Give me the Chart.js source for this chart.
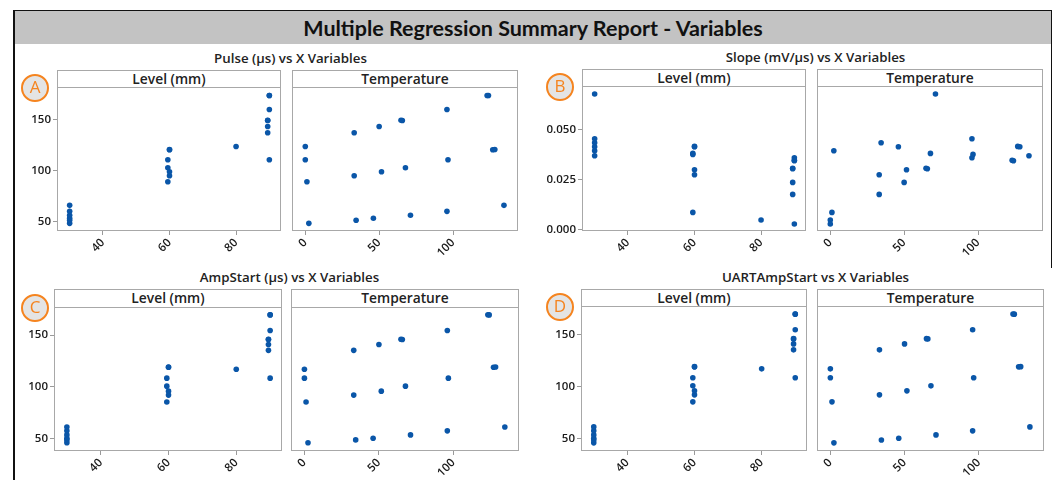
<!DOCTYPE html>
<html>
<head>
<meta charset="utf-8">
<script src="https://cdn.jsdelivr.net/npm/chart.js@4.4.1/dist/chart.umd.min.js"></script>
<style>
  body { margin: 0; width: 1057px; height: 480px; background: #fff; position: relative; overflow: hidden; font-family: "Open Sans", sans-serif; }
  .frameL { position: absolute; left: 13px; top: 10px; width: 2px; height: 470px; background: #111; }
  .frameR { position: absolute; left: 1051px; top: 10px; width: 1px; height: 258px; background: #111; }
  .band { position: absolute; left: 15px; top: 10px; width: 1036px; height: 33px; background: #c3c3c3; border-top: 1px solid #111; }
  .band span { position: absolute; left: 0; right: 0; top: 4px; text-align: center; font-family: Lato, sans-serif; font-weight: 700; font-size: 21.5px; color: #111; }
  .sub { position: absolute; text-align: center; font-size: 13.3px; font-weight: 600; color: #222; white-space: nowrap; }
  .head { position: absolute; box-sizing: border-box; border: 1px solid #a8a8a8; background: #fff; text-align: center; font-size: 13.8px; font-weight: 600; color: #222; line-height: 15px; }
  .badge { position: absolute; box-sizing: border-box; width: 28px; height: 28px; border-radius: 50%; border: 2.5px solid #f5841f; background: #e4e4e4; color: #f5841f; font-size: 17px; text-align: center; line-height: 22px; }
  canvas { position: absolute; }
</style>
</head>
<body>
<div class="frameL"></div>
<div class="frameR"></div>
<div class="band"><span>Multiple Regression Summary Report - Variables</span></div>
<script>
// one entry per observation
var level       = [80, 90, 59.5, 30, 89.5, 60, 30, 30, 89.5, 60, 89.5, 59.5, 30, 90, 59.5, 30, 90, 60, 30, 89.5, 60, 90];
var temperature = [0, 0, 1.1, 2.4, 33.1, 33.1, 34.4, 46.1, 50, 51.6, 65.7, 67.8, 71.2, 95.9, 96.6, 95.9, 124, 126.9, 134.5, 64.8, 128.3, 123.1];
var pulse       = [123.5, 110.5, 88.9, 48, 137, 94.8, 51, 53, 143.1, 98.7, 149, 102.6, 55.9, 159.8, 110.5, 59.8, 173.6, 120.3, 65.7, 149.2, 120.5, 173.5];
var slope       = [0.0047, 0.0027, 0.0085, 0.0393, 0.0175, 0.0273, 0.0433, 0.0413, 0.0235, 0.0298, 0.0303, 0.038, 0.0677, 0.0358, 0.0375, 0.0453, 0.0343, 0.0415, 0.0368, 0.0306, 0.0413, 0.0346];
var ampStart    = [117.1, 108.5, 85.5, 46.2, 135.3, 92.2, 49, 50.6, 141, 96, 145.8, 100.8, 53.8, 154.5, 108.5, 57.7, 169.5, 119, 61.5, 146, 119.2, 169.6];
var uartAmpStart = [117.1, 108.5, 85.5, 46.2, 135.3, 92.2, 49, 50.6, 141, 96, 145.8, 100.8, 53.8, 154.5, 108.5, 57.7, 169.5, 119, 61.5, 146, 119.2, 169.6];

var levelTicks = [40, 60, 80];
var tempTicks = [0, 50, 100];
var usTicks = [50, 100, 150];
var slopeTicks = [0, 0.025, 0.05];

var panels = [
    { letter: 'A', title: 'Pulse (µs) vs X Variables', y: pulse, yTicks: usTicks, yMin: 40.5, yMax: 181.9, dec: 0,
      hTop: 70, pTop: 87, pBot: 231, lvl: [57, 281], tmp: [292, 518] },
    { letter: 'B', title: 'Slope (mV/µs) vs X Variables', y: slope, yTicks: slopeTicks, yMin: -0.0008, yMax: 0.0717, dec: 3,
      hTop: 69, pTop: 86, pBot: 231, lvl: [582, 806], tmp: [817, 1043] },
    { letter: 'C', title: 'AmpStart (µs) vs X Variables', y: ampStart, yTicks: usTicks, yMin: 38.3, yMax: 177.1, dec: 0,
      hTop: 289, pTop: 307, pBot: 451, lvl: [54, 282], tmp: [291, 519] },
    { letter: 'D', title: 'UARTAmpStart vs X Variables', y: uartAmpStart, yTicks: usTicks, yMin: 38.4, yMax: 177.3, dec: 0,
      hTop: 289, pTop: 306, pBot: 451, lvl: [581, 807], tmp: [817, 1044] }
];

const boxPlugin = {
    id: 'box',
    beforeDatasetsDraw(chart) {
        const a = chart.chartArea, ctx = chart.ctx;
        ctx.save();
        ctx.strokeStyle = '#a8a8a8';
        ctx.lineWidth = 1;
        ctx.strokeRect(a.left + 0.5, a.top + 0.5, a.right - a.left - 1, a.bottom - a.top - 1);
        ctx.restore();
    }
};

function addDiv(cls, text, css) {
    let d = document.createElement('div');
    d.className = cls;
    d.textContent = text;
    d.style.cssText = css;
    document.body.appendChild(d);
}

// no label padding, so the plot area is exactly the box we ask for
function noPad(s) {
    s.paddingTop = 0;
    s.paddingBottom = 0;
    s.paddingLeft = 0;
    s.paddingRight = 0;
}

function makePlot(p, box, xs, xMin, xMax, xTicks, showY) {
    const padL = 45, padR = 4, padT = 4, padB = 34;
    const w = box[1] - box[0] + padL + padR;
    const h = p.pBot - p.pTop + padT + padB;
    let c = document.createElement('canvas');
    c.width = w;
    c.height = h;
    c.style.cssText = `left:${box[0] - padL}px;top:${p.pTop - padT}px;width:${w}px;height:${h}px`;
    document.body.appendChild(c);

    const tickFont = { family: '"Open Sans", sans-serif', size: 11.5, weight: '600' };
    new Chart(c, {
        type: 'scatter',
        data: {
            datasets: [{
                data: xs.map((x, i) => ({ x: x, y: p.y[i] })),
                backgroundColor: '#0a56a8',
                borderWidth: 0,
                pointRadius: 2.8
            }]
        },
        options: {
            responsive: false,
            animation: false,
            events: [],
            layout: { padding: { left: 0, right: padR, top: padT, bottom: 0 } },
            plugins: { legend: { display: false }, tooltip: { enabled: false } },
            scales: {
                x: {
                    type: 'linear', min: xMin, max: xMax,
                    afterFit: s => { s.height = padB; noPad(s); },
                    afterBuildTicks: s => { s.ticks = xTicks.map(v => ({ value: v })); },
                    grid: { drawOnChartArea: false, tickLength: 4, color: '#9a9a9a' },
                    border: { display: false },
                    ticks: { autoSkip: false, minRotation: 45, maxRotation: 45, padding: 1, color: '#1a1a1a', font: tickFont }
                },
                y: {
                    type: 'linear', min: p.yMin, max: p.yMax,
                    afterFit: s => { s.width = padL; noPad(s); },
                    afterBuildTicks: s => { s.ticks = p.yTicks.map(v => ({ value: v })); },
                    grid: { display: showY, drawOnChartArea: false, tickLength: 4, color: '#9a9a9a' },
                    border: { display: false },
                    ticks: {
                        display: showY, padding: 2, color: '#1a1a1a', font: tickFont,
                        callback: v => v.toFixed(p.dec)
                    }
                }
            }
        },
        plugins: [boxPlugin]
    });
}

for (let p of panels) {
    let mid = (p.lvl[0] + p.tmp[1]) / 2 + 3;
    addDiv('sub', p.title, `left:${mid - 150}px;width:300px;top:${p.hTop - 21}px`);
    addDiv('head', 'Level (mm)', `left:${p.lvl[0]}px;top:${p.hTop}px;width:${p.lvl[1] - p.lvl[0]}px;height:${p.pTop - p.hTop + 1}px`);
    addDiv('head', 'Temperature', `left:${p.tmp[0]}px;top:${p.hTop}px;width:${p.tmp[1] - p.tmp[0]}px;height:${p.pTop - p.hTop + 1}px`);
    makePlot(p, p.lvl, level, 26.2, 93.5, levelTicks, true);
    makePlot(p, p.tmp, temperature, -9, 144, tempTicks, false);
    let bx = p.letter === 'A' || p.letter === 'C' ? 21 : 546;
    addDiv('badge', p.letter, `left:${bx}px;top:${p.pTop - 13}px`);
}
</script>
</body>
</html>
